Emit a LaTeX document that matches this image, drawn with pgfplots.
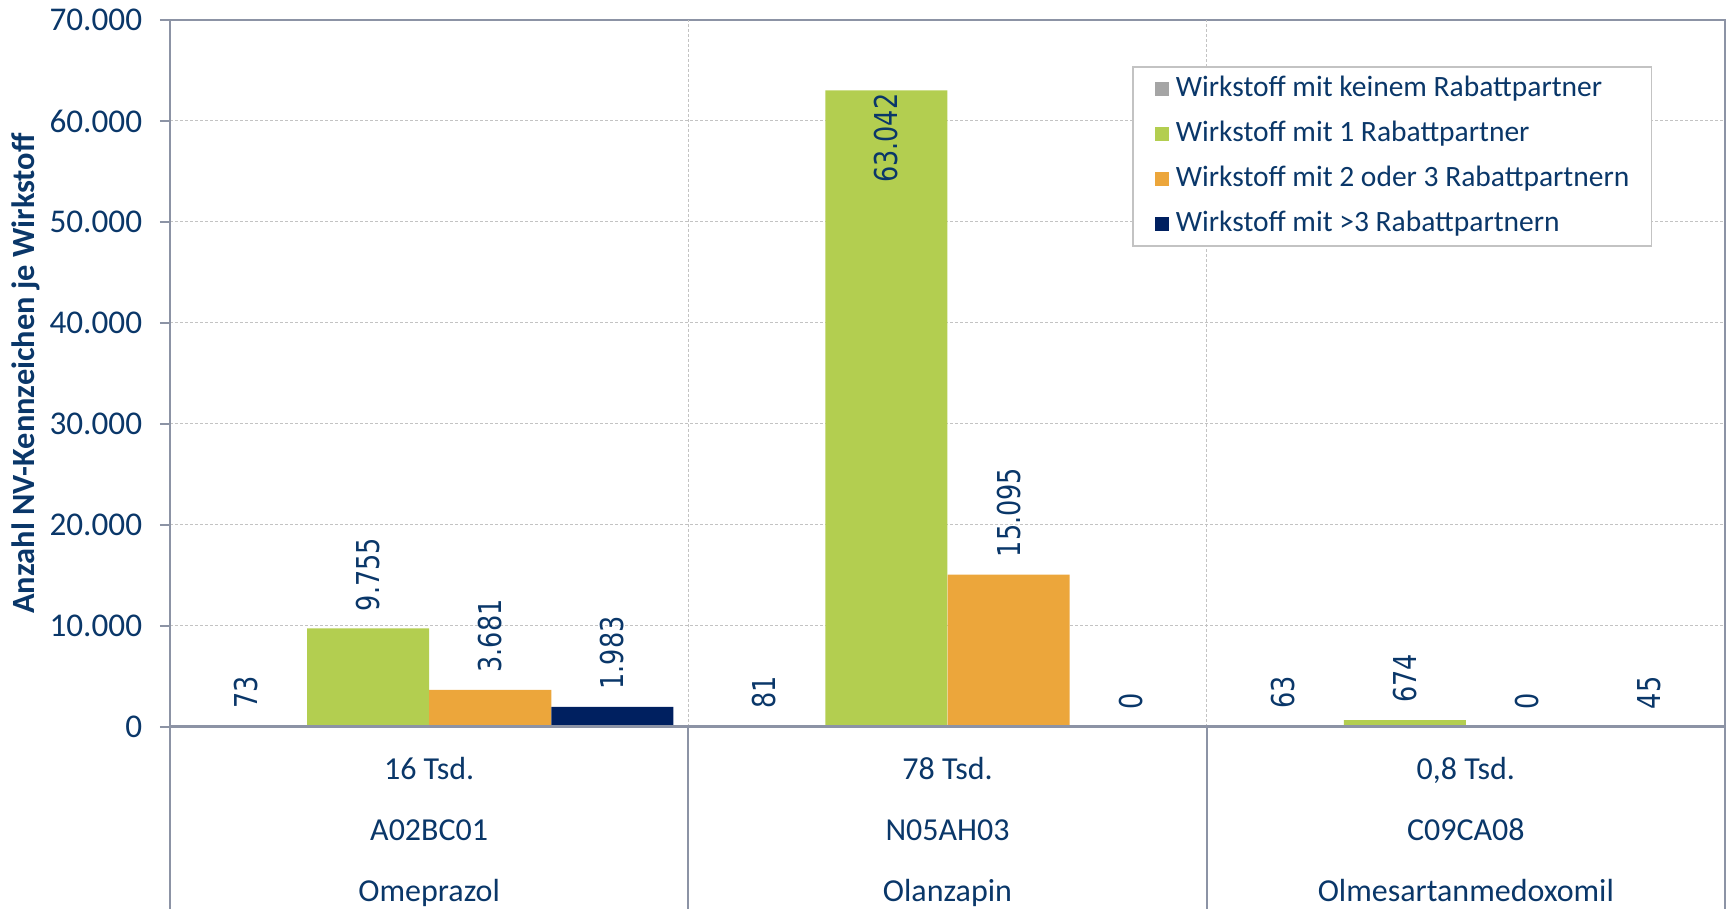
\documentclass[border=0pt]{standalone}
\usepackage{pgfplots}
\pgfplotsset{compat=1.18}
\usepackage{fontspec}
\setmainfont{Carlito}
\newfontfamily\labfont[FakeStretch=0.81]{DejaVu Sans}
\definecolor{txt}{RGB}{10,55,105}
\definecolor{cgrey}{RGB}{165,165,165}
\definecolor{cgreen}{RGB}{179,206,80}
\definecolor{corange}{RGB}{236,166,59}
\definecolor{cnavy}{RGB}{0,32,96}
\definecolor{axgray}{RGB}{140,147,165}
\definecolor{gridgray}{RGB}{195,195,195}
\definecolor{leggray}{RGB}{195,195,195}
\pgfplotsset{
  mybar/.style={ybar, bar shift=0pt, bar width=0.2355, draw=none,
    nodes near coords, point meta=explicit symbolic,
    legend image code/.code={\fill[##1] (0pt,-3.5pt) rectangle (7pt,3.5pt); \path (10.5pt,0pt);}},
}
\begin{document}
\begin{tikzpicture}
\begin{axis}[
  scale only axis, width=777.5pt, height=353.5pt,
  xmin=-0.5, xmax=2.5, ymin=0, ymax=70000,
  clip=false,
  axis line style={draw=axgray, line width=1pt},
  ytick={0,10000,20000,30000,40000,50000,60000,70000},
  yticklabels={0,10.000,20.000,30.000,40.000,50.000,60.000,70.000},
  scaled y ticks=false,
  ytick pos=left, tick align=outside, major tick length=5pt,
  ytick style={draw=axgray, line width=1pt},
  yticklabel style={font=\fontsize{16.6}{19}\selectfont, text=txt, inner sep=0pt, xshift=-8.75pt},
  ymajorgrids, major grid style={draw=gridgray, line width=0.5pt, dash pattern=on 1.5pt off 1pt},
  xtick={0,1,2}, xtick style={draw=none},
  xticklabels={{16 Tsd.\\A02BC01\\Omeprazol},{78 Tsd.\\N05AH03\\Olanzapin},{0,8 Tsd.\\C09CA08\\Olmesartanmedoxomil}},
  xticklabel style={align=center, font=\fontsize{16}{30.5}\selectfont, text=txt, anchor=north, inner sep=0pt, yshift=-10pt},
  ylabel={Anzahl NV-Kennzeichen je Wirkstoff},
  every axis y label/.style={at={(rel axis cs:0,0.5)}, xshift=-72pt, rotate=90, anchor=center,
    font=\bfseries\fontsize{16.2}{19}\selectfont, text=txt},
  every node near coord/.append style={rotate=90, anchor=west, inner xsep=8.5pt, inner ysep=0pt,
    font=\labfont\fontsize{15.75}{18}\selectfont, text=txt},
  legend style={at={(0.6187,0.9347)}, anchor=north west, draw=leggray, line width=0.75pt, fill=white,
    font=\fontsize{14.75}{17}\selectfont, text=txt, inner xsep=11pt, inner ysep=4.25pt, row sep=9pt,
    nodes={inner ysep=0pt, inner xsep=0pt, text height=10.5pt, text depth=3pt}},
  legend cell align=left,
]
\addplot[mybar, fill=cgrey] coordinates {(-0.3533,73) [73] (0.6467,81) [81] (1.6467,63) [63]};
\addlegendentry{Wirkstoff mit keinem Rabattpartner}
\addplot[mybar, fill=cgreen] coordinates {(-0.1178,9755) [9.755] (0.8822,63042) [] (1.8822,674) [674]};
\addlegendentry{Wirkstoff mit 1 Rabattpartner}
\addplot[mybar, fill=corange] coordinates {(0.1178,3681) [3.681] (1.1178,15095) [15.095] (2.1178,0) [0]};
\addlegendentry{Wirkstoff mit 2 oder 3 Rabattpartnern}
\addplot[mybar, fill=cnavy] coordinates {(0.3533,1983) [1.983] (1.3533,0) [0] (2.3533,45) [45]};
\addlegendentry{Wirkstoff mit >3 Rabattpartnern}
\addplot[mybar, fill=none, forget plot, every node near coord/.append style={anchor=east, inner xsep=1.5pt}]
  coordinates {(0.8822,63042) [63.042]};
\draw[gridgray, line width=0.5pt, dash pattern=on 1.5pt off 1pt] (axis cs:0.5,0) -- (axis cs:0.5,70000);
\draw[gridgray, line width=0.5pt, dash pattern=on 1.5pt off 1pt] (axis cs:1.5,0) -- (axis cs:1.5,70000);
\draw[axgray, line width=1.5pt] (axis cs:-0.5,0) -- (axis cs:2.5,0);
\draw[axgray, line width=1pt] (axis cs:-0.5,0) -- ++(0pt,-91pt);
\draw[axgray, line width=1pt] (axis cs:0.5,0) -- ++(0pt,-91pt);
\draw[axgray, line width=1pt] (axis cs:1.5,0) -- ++(0pt,-91pt);
\draw[axgray, line width=1pt] (axis cs:2.5,0) -- ++(0pt,-91pt);
\coordinate (sw) at (rel axis cs:0,0);
\coordinate (ne) at (rel axis cs:1,1);
\end{axis}
\pgfresetboundingbox
\path[use as bounding box] ([xshift=-85pt,yshift=-91pt]sw) rectangle ([xshift=1pt,yshift=10pt]ne);
\end{tikzpicture}
\end{document}
